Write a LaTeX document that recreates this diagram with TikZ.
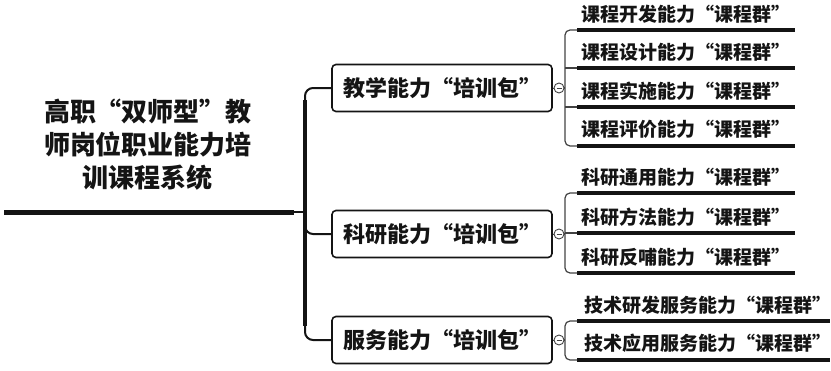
\documentclass[tikz,border=0pt]{standalone}
\usepackage{fontspec}
\setmainfont{Noto Sans CJK SC}
\definecolor{ink}{gray}{0.08}
\begin{document}
\begin{tikzpicture}[x=1pt,y=-1pt,
  pkg/.style={draw=ink,line width=1.6pt,rounded corners=4pt,minimum width=220pt,minimum height=47pt,inner sep=0pt,font=\fontsize{22}{24}\selectfont\bfseries,text=ink},
  leaftext/.style={inner sep=0pt,font=\fontsize{19}{21}\selectfont\bfseries,text=ink},
  leafline/.style={line width=4pt,draw=ink},
  branch/.style={draw=ink!80,line width=1.2pt,rounded corners=5pt},
  trunk/.style={draw=ink,line width=3.5pt},
  arm/.style={draw=ink,line width=2pt,rounded corners=8pt},
  fold/.style={circle,draw=ink!80,line width=0.9pt,minimum size=10pt,inner sep=0pt,fill=white}]
\useasboundingbox (0,0) rectangle (831,370);
% root
\node[align=center,font=\fontsize{26}{33}\selectfont\bfseries,text=ink] (root) at (148,145) {高职“双师型”教\\师岗位职业能力培\\训课程系统};
\coordinate (rootL) at (4,212);
\coordinate (rootR) at (294,212);
\draw[line width=5pt,draw=ink] (rootL) -- (rootR);
% packages
\node[pkg] (b1) at (442,88) {教学能力“培训包”};
\node[pkg] (b2) at (442,234) {科研能力“培训包”};
\node[pkg] (b3) at (442,340) {服务能力“培训包”};
\coordinate (tTop) at (305,100);
\coordinate (tBot) at (305,326);
\coordinate (tMid) at (305,212);
\draw[trunk] (tTop) -- (tBot);
\draw[line width=1.5pt,draw=ink] (rootR) -- (tMid);
\draw[arm] (b1.west) -| (tTop);
\draw[arm] (b2.west) -| (tMid);
\draw[arm] (b3.west) -| (tBot);
% fold markers
\node[fold] (c1) at (559,88) {};
\node[fold] (c2) at (559,234) {};
\node[fold] (c3) at (559,340) {};
\foreach \c in {c1,c2,c3}{\draw[ink!80,line width=0.8pt] ([xshift=-2.5pt]\c.center) -- ([xshift=2.5pt]\c.center);}
\draw[ink!80,line width=0.8pt] (b1.east) -- (c1.west);
\draw[ink!80,line width=0.8pt] (b2.east) -- (c2.west);
\draw[ink!80,line width=0.8pt] (b3.east) -- (c3.west);
% group 1
\foreach \n/\y in {1/30,2/68,3/107,4/146}{
  \coordinate (a\n s) at (577,\y); \coordinate (a\n e) at (795,\y);
  \draw[leafline] (a\n s) -- (a\n e);}
\node[leaftext] (t11) at (686,14) {课程开发能力“课程群”};
\node[leaftext] (t12) at (686,52) {课程设计能力“课程群”};
\node[leaftext] (t13) at (686,91) {课程实施能力“课程群”};
\node[leaftext] (t14) at (686,129) {课程评价能力“课程群”};
\draw[branch] (a1s) -| (565,88) |- (a4s);
\draw[branch] (c1.east) -- (565,88);
\draw[branch] (565,68) -- (a2s);
\draw[branch] (565,107) -- (a3s);
% group 2
\foreach \n/\y in {1/193,2/233,3/273}{
  \coordinate (k\n s) at (577,\y); \coordinate (k\n e) at (795,\y);
  \draw[leafline] (k\n s) -- (k\n e);}
\node[leaftext] (t21) at (686,177) {科研通用能力“课程群”};
\node[leaftext] (t22) at (686,217) {科研方法能力“课程群”};
\node[leaftext] (t23) at (686,257) {科研反哺能力“课程群”};
\draw[branch] (k1s) -| (565,234) |- (k3s);
\draw[branch] (c2.east) -- (565,234);
\draw[branch] (565,233) -- (k2s);
% group 3
\foreach \n/\y in {1/321,2/360}{
  \coordinate (s\n s) at (577,\y); \coordinate (s\n e) at (830,\y);
  \draw[leafline] (s\n s) -- (s\n e);}
\node[leaftext] (t31) at (708,305) {技术研发服务能力“课程群”};
\node[leaftext] (t32) at (708,343) {技术应用服务能力“课程群”};
\draw[branch] (s1s) -| (565,340) |- (s2s);
\draw[branch] (c3.east) -- (565,340);
\end{tikzpicture}
\end{document}
